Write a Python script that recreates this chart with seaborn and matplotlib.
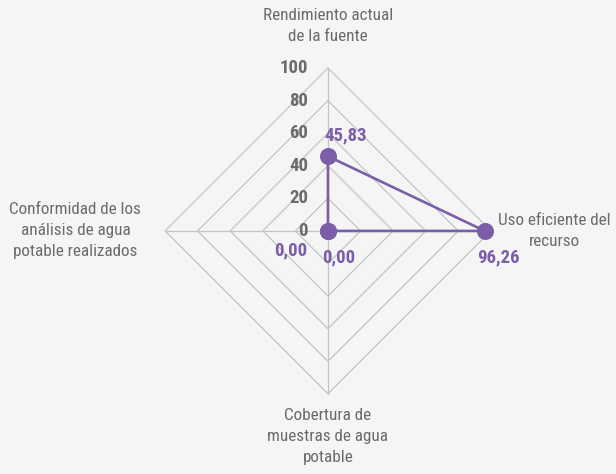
import numpy as np
import pandas as pd
import matplotlib
matplotlib.use("Agg")
import matplotlib.pyplot as plt
import seaborn as sns

categories = ["Rendimiento actual\nde la fuente",
              "Uso eficiente del\nrecurso",
              "Cobertura de\nmuestras de agua\npotable",
              "Conformidad de los\nanálisis de agua\npotable realizados"]
values = [45.83, 96.26, 0.00, 0.00]
value_labels = ["45,83", "96,26", "0,00", "0,00"]
ticks = [0, 20, 40, 60, 80, 100]

sns.set_theme(style="white")
plt.rcParams['font.family'] = ['Roboto Condensed', 'DejaVu Sans Condensed',
                               'Liberation Sans Narrow', 'Roboto', 'DejaVu Sans']

BG = "#f5f5f5"
PURPLE = "#7b5ea7"
GRID = "#c4c4c4"
TXT = "#6b6b6b"

fig = plt.figure(figsize=(6.16, 4.74), dpi=100, facecolor=BG)
ax = fig.add_axes([0.2679, 0.1688, 0.529, 0.688], projection="polar")
ax.set_facecolor(BG)
ax.set_theta_offset(np.pi / 2)
ax.set_theta_direction(-1)
ax.set_ylim(0, 100)
ax.grid(False)
ax.spines["polar"].set_visible(False)
ax.set_xticks([])
ax.set_yticks([])

n = len(categories)
angles = np.arange(n) * 2 * np.pi / n

# diamond grid
for t in ticks[1:]:
    ax.plot(np.append(angles, angles[0]), [t] * (n + 1), color=GRID, lw=0.9,
            zorder=1, clip_on=False)
for a in angles:
    ax.plot([a, a], [0, 100], color=GRID, lw=0.9, zorder=1, clip_on=False)

df = pd.DataFrame({"angle": np.append(angles, angles[0]),
                   "value": values + [values[0]]})
ax.plot(df["angle"], df["value"], color=PURPLE, lw=1.9, zorder=3, clip_on=False)
sns.scatterplot(x=angles, y=values, ax=ax, color=PURPLE, s=150, edgecolor=PURPLE,
                linewidth=0, zorder=4, legend=False, clip_on=False)

# radial tick labels
for t in ticks:
    ax.annotate(str(t), xy=(0, t), xytext=(-20, 0), textcoords="offset pixels",
                ha="right", va="center", fontsize=13.5, fontweight="bold",
                color=TXT, annotation_clip=False)

# value labels
offsets = [(18, 21), (14, -26), (11, -26), (-37, -19)]
for a, v, lab, off in zip(angles, values, value_labels, offsets):
    ax.annotate(lab, xy=(a, v), xytext=off, textcoords="offset pixels",
                ha="center", va="center", fontsize=13.5, fontweight="bold",
                color=PURPLE, annotation_clip=False)

# category labels
label_r = [126, 139, 126, 155]
for a, lab, r in zip(angles, categories, label_r):
    ax.text(a, r, lab, ha="center", va="center", fontsize=12.3, color=TXT,
            linespacing=1.5, clip_on=False)

fig.savefig("out.png", dpi=100, facecolor=BG)
